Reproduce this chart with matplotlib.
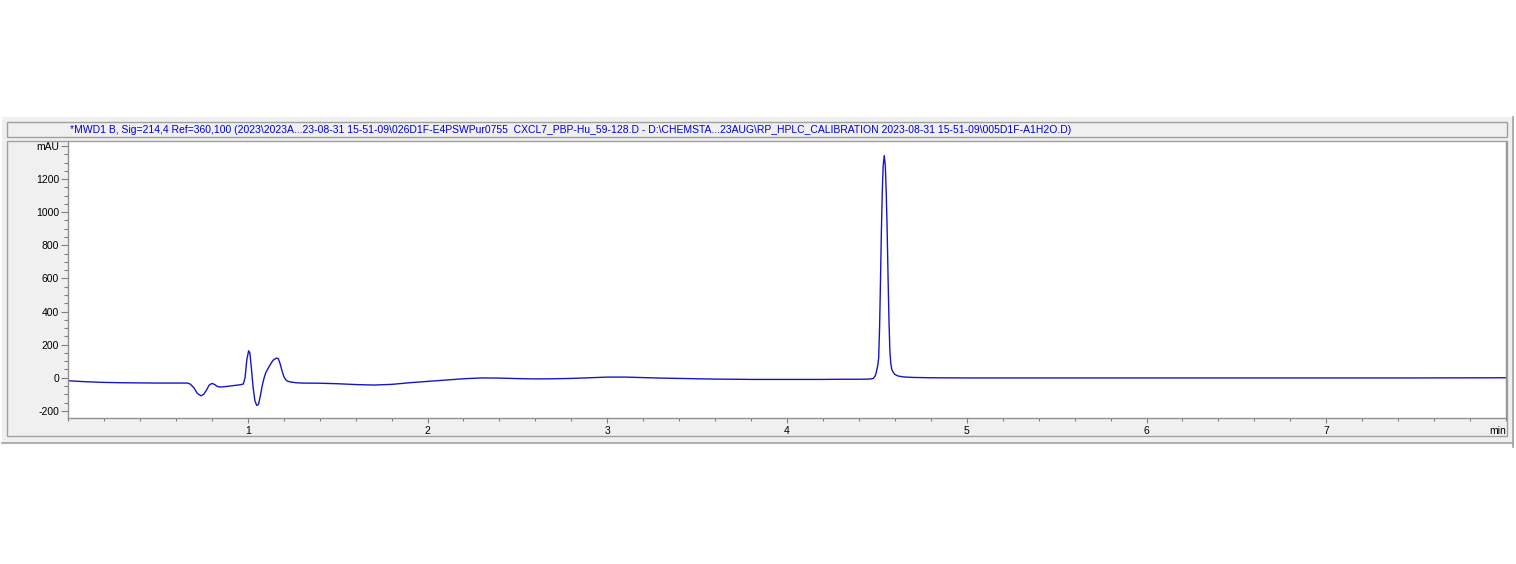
import numpy as np
import matplotlib.pyplot as plt
from matplotlib.patches import Rectangle
from matplotlib.lines import Line2D
from matplotlib.ticker import MultipleLocator, FixedLocator

W, H = 1516, 564

# chromatogram: retention time (min) / signal (mAU)
time_min = [0.00, 0.10, 0.20, 0.30, 0.40, 0.50, 0.60, 0.665, 0.68, 0.70,
            0.72, 0.74, 0.755, 0.77, 0.785, 0.80, 0.815, 0.83, 0.845, 0.87,
            0.90, 0.93, 0.96, 0.975, 0.985, 0.995, 1.005, 1.012, 1.02, 1.03,
            1.04, 1.05, 1.06, 1.07, 1.08, 1.09, 1.10, 1.12, 1.14, 1.16,
            1.17, 1.18, 1.19, 1.20, 1.21, 1.22, 1.24, 1.27, 1.30, 1.40,
            1.50, 1.60, 1.70, 1.80, 1.90, 2.00, 2.10, 2.20, 2.30, 2.40,
            2.50, 2.60, 2.70, 2.80, 2.90, 3.00, 3.10, 3.20, 3.30, 3.40,
            3.50, 3.60, 3.70, 3.80, 3.90, 4.00, 4.10, 4.20, 4.30, 4.40,
            4.46, 4.48, 4.49, 4.495, 4.50, 4.505, 4.51, 4.515, 4.52, 4.525,
            4.53, 4.535, 4.541, 4.547, 4.552, 4.557, 4.562, 4.567, 4.572, 4.577,
            4.583, 4.59, 4.60, 4.62, 4.65, 4.70, 4.80, 5.00, 5.50, 6.00,
            6.50, 7.00, 7.50, 8.00]
signal_mau = [-18, -24, -28, -30, -31, -32, -32, -32, -38, -60,
              -95, -109, -100, -75, -45, -34, -40, -52, -56, -54,
              -50, -46, -42, -38, 0, 110, 163, 150, 60, -60,
              -140, -167, -160, -110, -50, -5, 30, 70, 105, 119,
              115, 85, 45, 10, -10, -20, -26, -30, -32, -33,
              -36, -41, -44, -40, -30, -22, -14, -6, -1, -2,
              -5, -7, -6, -4, 0, 4, 4, 1, -2, -4,
              -6, -8, -9, -10, -10, -10, -10, -10, -9, -9,
              -8, -4, 10, 25, 50, 75, 120, 300, 580, 880,
              1120, 1280, 1342, 1280, 1120, 900, 620, 360, 170, 90,
              50, 35, 20, 10, 5, 2, 0, -1, -1, -1,
              -1, -1, -1, 0]

y_ticks = [-200, 0, 200, 400, 600, 800, 1000, 1200, 1400]
y_labels = ['-200', '0', '200', '400', '600', '800', '1000', '1200', 'mAU']
x_ticks = [1, 2, 3, 4, 5, 6, 7]
x_labels = ['1', '2', '3', '4', '5', '6', '7']

title_text = (r"*MWD1 B, Sig=214,4 Ref=360,100 (2023\2023A...23-08-31 15-51-09\026D1F-E4PSWPur0755  "
              r"CXCL7_PBP-Hu_59-128.D - D:\CHEMSTA...23AUG\RP_HPLC_CALIBRATION 2023-08-31 15-51-09\005D1F-A1H2O.D)")

plt.rcParams['font.family'] = ['Liberation Sans', 'DejaVu Sans']

def box(x0, y0, x1, y1):
    # pixel box (top-left origin) -> figure fraction
    return [x0 / W, 1 - y1 / H, (x1 - x0) / W, (y1 - y0) / H]

fig = plt.figure(figsize=(W / 100, H / 100), dpi=100)
fig.patch.set_facecolor('white')

# window panel
b = box(2, 117, 1513, 443)
fig.add_artist(Rectangle((b[0], b[1]), b[2], b[3], transform=fig.transFigure,
                         facecolor='#f0f0f0', edgecolor='none', zorder=0))
fig.add_artist(Line2D([2 / W, 1513 / W], [1 - 443 / H] * 2, transform=fig.transFigure,
                      color='#a0a0a0', lw=1.2))
fig.add_artist(Line2D([1513 / W] * 2, [1 - 117 / H, 1 - 447 / H], transform=fig.transFigure,
                      color='#a0a0a0', lw=1.2))
for bx in [box(7, 122, 1507, 137), box(7, 141, 1507, 436)]:
    fig.add_artist(Rectangle((bx[0], bx[1]), bx[2], bx[3], transform=fig.transFigure,
                             facecolor='none', edgecolor='#a0a0a0', lw=1.0, zorder=1))

fig.text(70 / W, 1 - 129.5 / H, title_text, color='#0000e0', fontsize=7.45,
         ha='left', va='center')

ax = fig.add_axes(box(68, 141, 1506, 418))
ax.plot(time_min, signal_mau, color='#1515c8', lw=1.0)
ax.set_xlim(0, 8)
ax.set_ylim(-243, 1430)

ax.spines['top'].set_visible(False)
for s in ['left', 'bottom', 'right']:
    ax.spines[s].set_color('#909090')
    ax.spines[s].set_linewidth(1.0)

ax.yaxis.set_major_locator(FixedLocator(y_ticks))
ax.set_yticklabels(y_labels)
ax.yaxis.set_minor_locator(MultipleLocator(50))
ax.xaxis.set_major_locator(FixedLocator(x_ticks))
ax.set_xticklabels(x_labels)
ax.xaxis.set_minor_locator(MultipleLocator(0.2))

ax.tick_params(axis='y', which='major', length=5, width=0.8, color='#808080',
               labelsize=7.5, pad=1.5)
ax.tick_params(axis='y', which='minor', length=3, width=0.8, color='#808080')
ax.tick_params(axis='x', which='major', length=3.6, width=0.8, color='#808080',
               labelsize=7.5, pad=2)
ax.tick_params(axis='x', which='minor', length=2.2, width=0.8, color='#808080')

fig.text(1498 / W, 1 - 430.5 / H, 'min', fontsize=7.5, ha='center', va='center')

fig.savefig('out.png', dpi=100)
